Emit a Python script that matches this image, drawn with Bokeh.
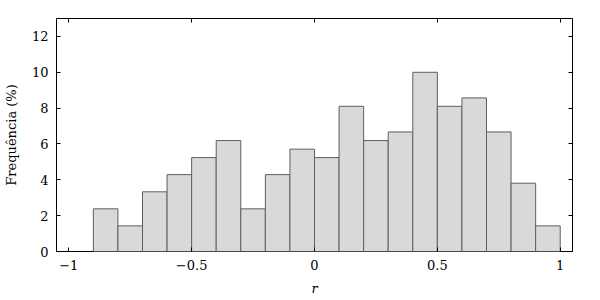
from bokeh.plotting import figure
from bokeh.models import LinearAxis, FixedTicker, Range1d, CustomJSTickFormatter
from bokeh.embed import file_html
from bokeh.resources import INLINE

# Histogram data: bin edges of r and frequency (%) per bin
bin_left = [-0.9, -0.8, -0.7, -0.6, -0.5, -0.4, -0.3, -0.2, -0.1, 0.0,
            0.1, 0.2, 0.3, 0.4, 0.5, 0.6, 0.7, 0.8, 0.9]
bin_right = [-0.8, -0.7, -0.6, -0.5, -0.4, -0.3, -0.2, -0.1, 0.0, 0.1,
             0.2, 0.3, 0.4, 0.5, 0.6, 0.7, 0.8, 0.9, 1.0]
freq = [2.38, 1.43, 3.33, 4.29, 5.24, 6.19, 2.38, 4.29, 5.71, 5.24,
        8.10, 6.19, 6.67, 10.00, 8.10, 8.57, 6.67, 3.81, 1.43]

x_ticks = [-1, -0.5, 0, 0.5, 1]
x_tick_labels = ["\u22121", "\u22120.5", "0", "0.5", "1"]
y_ticks = [0, 2, 4, 6, 8, 10, 12]

FONT = "'DejaVu Serif', 'Liberation Serif', serif"
FS = "13px"

p = figure(width=600, height=300, output_backend="svg", toolbar_location=None,
           x_range=Range1d(-1.05, 1.05), y_range=Range1d(0, 13),
           x_axis_type=None, y_axis_type=None,
           min_border_left=56, min_border_right=28,
           min_border_top=18, min_border_bottom=49)
p.grid.visible = False
p.background_fill_color = "white"
p.border_fill_color = "white"
p.outline_line_color = "black"
p.outline_line_width = 1
p.outline_line_alpha = 1

p.quad(left=bin_left, right=bin_right, bottom=0, top=freq,
       fill_color="#d9d9d9", line_color="#5f5f5f", line_width=1)

def style(ax):
    ax.axis_line_color = None
    ax.major_tick_in = 4
    ax.major_tick_out = 0
    ax.minor_tick_line_color = None
    ax.major_tick_line_color = "black"
    ax.major_tick_line_width = 1
    ax.major_label_text_font = FONT
    ax.major_label_text_font_size = FS
    ax.major_label_text_color = "black"
    ax.axis_label_text_font = FONT
    ax.axis_label_text_font_size = FS
    ax.axis_label_text_font_style = "normal"
    ax.axis_label_text_color = "black"

xb = LinearAxis(ticker=FixedTicker(ticks=x_ticks), axis_label="r")
style(xb)
xb.axis_label_text_font_style = "italic"
xb.major_label_overrides = {t: l for t, l in zip(x_ticks, x_tick_labels)}
xb.major_label_standoff = 8
xb.axis_label_standoff = 8
p.add_layout(xb, "below")

yl = LinearAxis(ticker=FixedTicker(ticks=y_ticks), axis_label="Frequência (%)")
style(yl)
yl.major_label_standoff = 8
yl.axis_label_standoff = 10
p.add_layout(yl, "left")

blank = CustomJSTickFormatter(code="return ''")

xt = LinearAxis(ticker=FixedTicker(ticks=x_ticks), formatter=blank)
style(xt)
xt.major_label_standoff = 0
p.add_layout(xt, "above")

yr = LinearAxis(ticker=FixedTicker(ticks=y_ticks), formatter=blank)
style(yr)
yr.major_label_standoff = 0
p.add_layout(yr, "right")

open("out.html", "w").write(file_html(p, INLINE))
